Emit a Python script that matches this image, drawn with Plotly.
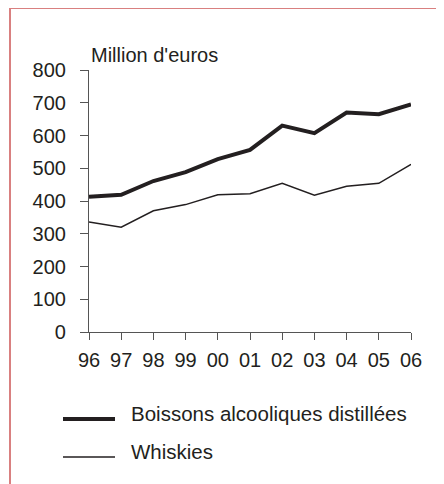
import plotly.graph_objects as go

years = ["96", "97", "98", "99", "00", "01", "02", "03", "04", "05", "06"]
boissons = [413, 419, 461, 488, 528, 556, 630, 607, 670, 665, 695]
whiskies = [336, 320, 370, 389, 419, 422, 454, 418, 445, 454, 512]
series_names = ["Boissons alcooliques distillées", "Whiskies"]
y_ticks = [0, 100, 200, 300, 400, 500, 600, 700, 800]

FONT = "Liberation Sans, Arial, sans-serif"
TXT = "#231f20"

W, H = 444, 484
OFF = 8  # page body margin
L, R, T, B = 81, 41, 62, 160
pw, ph = W - L - R, H - T - B

def px(x):
    return (x - OFF - L) / pw

def py(y):
    return (H - B - (y - OFF)) / ph

xs = list(range(len(years)))

fig = go.Figure()
fig.add_trace(go.Scatter(x=xs, y=boissons, mode="lines", name=series_names[0],
                         line=dict(color="#231f20", width=4), showlegend=False))
fig.add_trace(go.Scatter(x=xs, y=whiskies, mode="lines", name=series_names[1],
                         line=dict(color="#231f20", width=1.5), showlegend=False))

fig.update_layout(
    width=W, height=H,
    margin=dict(l=L, r=R, t=T, b=B),
    paper_bgcolor="white", plot_bgcolor="white",
    font=dict(family=FONT, color=TXT, size=20),
    xaxis=dict(range=[0, len(years) - 1], tickmode="array", tickvals=xs, ticktext=years,
               showgrid=False, zeroline=False, showline=True, linecolor="#555555", linewidth=1.2,
               ticks="outside", ticklen=7, tickcolor="#555555", tickwidth=1.2,
               tickfont=dict(size=20, family=FONT, color=TXT), ticklabelstandoff=3),
    yaxis=dict(range=[0, 800], tickmode="array", tickvals=y_ticks,
               showgrid=False, zeroline=False, showline=True, linecolor="#555555", linewidth=1.2,
               ticks="outside", ticklen=8, tickcolor="#555555", tickwidth=1.2,
               tickfont=dict(size=20, family=FONT, color=TXT), ticklabelstandoff=10),
    showlegend=False,
)

# frame
fig.add_shape(type="rect", xref="paper", yref="paper",
              x0=px(10), x1=px(470), y0=py(510), y1=py(8),
              line=dict(color="#d98080", width=2), fillcolor="rgba(0,0,0,0)", layer="below")

# unit label
fig.add_annotation(xref="paper", yref="paper", x=px(89), y=py(55), text="Million d'euros",
                   showarrow=False, xanchor="left", yanchor="middle",
                   font=dict(size=20, family=FONT, color=TXT))

# custom legend
for name, lw, ly, ty in [(series_names[0], 4, 419, 413), (series_names[1], 1.5, 457, 451)]:
    fig.add_shape(type="line", xref="paper", yref="paper",
                  x0=px(63), x1=px(115), y0=py(ly), y1=py(ly),
                  line=dict(color="#231f20", width=lw))
    fig.add_annotation(xref="paper", yref="paper", x=px(129), y=py(ty), text=name,
                       showarrow=False, xanchor="left", yanchor="middle",
                       font=dict(size=20.5, family=FONT, color=TXT))

fig.write_html("out.html")
